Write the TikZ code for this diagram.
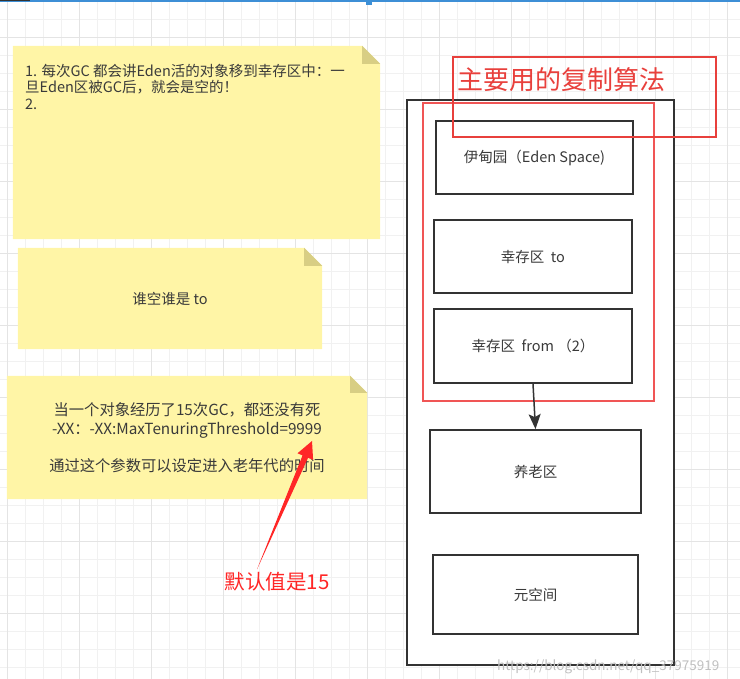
\documentclass[tikz,border=0pt]{standalone}
\usepackage{fontspec}
\setmainfont{Noto Sans CJK SC}
\usetikzlibrary{arrows.meta,calc,backgrounds}

\definecolor{notefill}{HTML}{FFF5A6}
\definecolor{notefold}{HTML}{D8CE84}
\definecolor{boxline}{HTML}{333333}
\definecolor{textgray}{HTML}{3A3A3A}
\definecolor{youngred}{HTML}{F05555}
\definecolor{titlered}{HTML}{E8403C}
\definecolor{markred}{HTML}{FF2626}
\definecolor{gridmajor}{HTML}{E4E4E4}
\definecolor{gridminor}{HTML}{F1F1F1}
\definecolor{topblue}{HTML}{3D8FD6}

\tikzset{
  area/.style={draw=boxline, line width=1.8pt, fill=white, text=textgray,
    font=\fontsize{14.5}{17}\selectfont},
  note/.style={inner sep=0pt, text=textgray, font=\fontsize{14.5}{17}\selectfont},
  notetext/.style={inner sep=0pt, text=textgray, align=left,
    font=\fontsize{14.5}{16.5}\selectfont},
  flow/.style={draw=boxline, line width=1.5pt, -{Stealth[length=15pt,width=12pt,inset=3pt]}},
}

\begin{document}
\begin{tikzpicture}[x=1pt, y=-1pt]
\useasboundingbox (0,0) rectangle (740,679);

% notes on the left
\node[note, minimum width=367, minimum height=193] (note1) at (196.5,142.5) {};
\node[notetext, anchor=north west] (note1txt) at (25,64)
  {1. 每次GC 都会讲Eden活的对象移到幸存区中：一\\旦Eden区被GC后，就会是空的！\\2.};
\node[note, minimum width=304, minimum height=101] (note2) at (170,298.5) {谁空谁是 to};
\node[note, minimum width=360, minimum height=123, align=center,
  font=\fontsize{15.3}{18.5}\selectfont] (note3) at (187,437.5)
  {当一个对象经历了15次GC，都还没有死\\-XX：-XX:MaxTenuringThreshold=9999\\[18.5pt]通过这个参数可以设定进入老年代的时间};

\begin{scope}[on background layer]
  % grid of the canvas
  \foreach \gx in {7,25,...,739} \draw[gridminor, line width=0.8pt] (\gx,0) -- (\gx,679);
  \foreach \gy in {1,19,...,679} \draw[gridminor, line width=0.8pt] (0,\gy) -- (740,\gy);
  \foreach \gx in {7,79,...,739} \draw[gridmajor, line width=0.8pt] (\gx,0) -- (\gx,679);
  \foreach \gy in {37,109,...,679} \draw[gridmajor, line width=0.8pt] (0,\gy) -- (740,\gy);
  % folded notes
  \foreach \n/\s in {note1/18, note2/18, note3/17} {
    \fill[notefill] (\n.south west) -- (\n.north west) -- ([xshift=-\s pt]\n.north east)
      -- ([yshift=-\s pt]\n.north east) -- (\n.south east) -- cycle;
    \fill[notefold] ([xshift=-\s pt]\n.north east) -- ([xshift=-\s pt,yshift=-\s pt]\n.north east)
      -- ([yshift=-\s pt]\n.north east) -- cycle;
  }
\end{scope}

% heap
\node[area, minimum width=267, minimum height=565] (heap) at (540.5,382.5) {};
\node[draw=youngred, line width=2pt, minimum width=231, minimum height=298] (young) at (538.5,252) {};
\node[area, minimum width=197, minimum height=73] (eden) at (534.5,157.5) {伊甸园（Eden Space)};
\node[area, minimum width=198, minimum height=73] (survto) at (533,256.5) {幸存区\ \ to};
\node[area, minimum width=198, minimum height=74] (survfrom) at (533,346) {幸存区\ \ from （2）};
\node[area, minimum width=211, minimum height=83] (oldgen) at (535.5,471.5) {养老区};
\node[area, minimum width=205, minimum height=79] (metaspace) at (535.5,594.5) {元空间};
\draw[flow] (survfrom.south) -- (oldgen.north);

% title frame
\node[draw=titlered, line width=1.3pt, minimum width=263, minimum height=80] (title) at (584.5,97) {};
\node[inner sep=0pt, anchor=west, text=titlered, font=\fontsize{26}{30}\selectfont] (titletxt) at (457,80) {主要用的复制算法};

% red remark
\node[inner sep=0pt, text=markred, font=\fontsize{20.5}{24}\selectfont] (dflt) at (277,582) {默认值是15};
\coordinate (tip) at (312,441);
\coordinate (tail) at ([xshift=-20pt,yshift=3pt]dflt.north);
\coordinate (hb) at ($(tip)!17pt!(tail)$);
\fill[markred] (tail) -- ($(hb)!3pt!90:(tip)$) -- ($(hb)!8.5pt!90:(tip)$) -- (tip)
  -- ($(hb)!8.5pt!-90:(tip)$) -- ($(hb)!3pt!-90:(tip)$) -- cycle;

% screen top and watermark
\fill[topblue] (0,0) rectangle (740,2.5);
\fill[topblue] (366,0) rectangle (372,5);
\fill[black!80] (0,0) rectangle (30,1.5);
\node[inner sep=0pt, anchor=west, text=black!25, font=\fontsize{13.5}{16}\selectfont] (wm) at (497,667) {https://blog.csdn.net/qq\_37975919};
\end{tikzpicture}
\end{document}
